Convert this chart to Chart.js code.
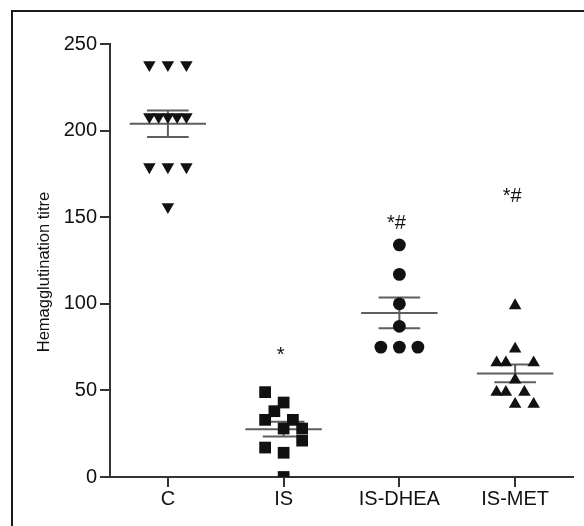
<!DOCTYPE html>
<html>
<head>
<meta charset="utf-8">
<script src="https://cdn.jsdelivr.net/npm/chart.js@4.4.1/dist/chart.umd.min.js"></script>
<style>
  html, body { margin: 0; padding: 0; background: #fff; overflow: hidden; }
  #wrap { position: relative; width: 584px; height: 526px; }
  #frame { position: absolute; left: 11px; top: 10px; width: 700px; height: 700px;
           border-left: 2px solid #1a1a1a; border-top: 2px solid #1a1a1a; }
  canvas { position: absolute; left: 0; top: 0; }
</style>
</head>
<body>
<div id="wrap">
  <div id="frame"></div>
  <canvas id="c" width="584" height="526"></canvas>
</div>
<script>
// ---- data ----
const categories = ['C', 'IS', 'IS-DHEA', 'IS-MET'];
const yTicks = [0, 50, 100, 150, 200, 250];
const yTitle = 'Hemagglutination titre';

const cValues    = [238, 238, 238, 208, 208, 208, 208, 208, 179, 179, 179, 156];
const cJitter    = [-0.16, 0, 0.16, -0.16, -0.08, 0, 0.08, 0.16, -0.16, 0, 0.16, 0];

const isValues   = [49, 43, 38, 33, 33, 28, 28, 21, 17, 14, 0];
const isJitter   = [-0.16, 0, -0.08, -0.16, 0.08, 0, 0.16, 0.16, -0.16, 0, 0];

const dheaValues = [134, 117, 100, 87, 75, 75, 75];
const dheaJitter = [0, 0, 0, 0, -0.16, 0, 0.16];

const metValues  = [99, 74, 66, 66, 66, 56, 49, 49, 49, 42, 42];
const metJitter  = [0, 0, -0.16, -0.08, 0.16, 0, -0.16, -0.08, 0.08, 0, 0.16];

const signifText = ['', '*', '*#', '*#'];
const signifY    = [null, 67, 143, 159];

// ---- helpers ----
const groups = [
  { values: cValues, jitter: cJitter, style: 'triangle', rotation: 180, radius: 7.2 },
  { values: isValues, jitter: isJitter, style: 'rect', rotation: 0, radius: 8.3 },
  { values: dheaValues, jitter: dheaJitter, style: 'circle', rotation: 0, radius: 6.4 },
  { values: metValues, jitter: metJitter, style: 'triangle', rotation: 0, radius: 7.2 }
];

function mean(a) { return a.reduce((s, v) => s + v, 0) / a.length; }
function sem(a) {
  const m = mean(a);
  const v = a.reduce((s, x) => s + (x - m) * (x - m), 0) / (a.length - 1);
  return Math.sqrt(v) / Math.sqrt(a.length);
}

const datasets = groups.map((g, i) => ({
  data: g.values.map((v, k) => ({ x: i + g.jitter[k], y: v })),
  pointStyle: g.style,
  rotation: g.rotation,
  pointRadius: g.radius,
  pointHoverRadius: g.radius,
  backgroundColor: '#111',
  borderColor: '#111',
  borderWidth: 0
}));

const FONT = "'Liberation Sans', Arial, Helvetica, sans-serif";

const meanSemPlugin = {
  id: 'meanSem',
  beforeDatasetsDraw(chart) {
    const ctx = chart.ctx, xs = chart.scales.x, ys = chart.scales.y;
    ctx.save();
    ctx.strokeStyle = '#5e5e5e';
    ctx.lineWidth = 2;
    groups.forEach((g, i) => {
      const m = mean(g.values), s = sem(g.values);
      const yM = ys.getPixelForValue(m);
      const yU = ys.getPixelForValue(m + s);
      const yL = ys.getPixelForValue(m - s);
      ctx.beginPath();
      ctx.moveTo(xs.getPixelForValue(i - 0.33), yM);
      ctx.lineTo(xs.getPixelForValue(i + 0.33), yM);
      ctx.moveTo(xs.getPixelForValue(i), yU);
      ctx.lineTo(xs.getPixelForValue(i), yL);
      ctx.moveTo(xs.getPixelForValue(i - 0.18), yU);
      ctx.lineTo(xs.getPixelForValue(i + 0.18), yU);
      ctx.moveTo(xs.getPixelForValue(i - 0.18), yL);
      ctx.lineTo(xs.getPixelForValue(i + 0.18), yL);
      ctx.stroke();
    });
    ctx.restore();
  },
  afterDatasetsDraw(chart) {
    const ctx = chart.ctx, xs = chart.scales.x, ys = chart.scales.y;
    ctx.save();
    ctx.fillStyle = '#111';
    ctx.font = '20px ' + FONT;
    ctx.textAlign = 'center';
    ctx.textBaseline = 'alphabetic';
    signifText.forEach((t, i) => {
      if (!t || signifY[i] == null) return;
      ctx.fillText(t, xs.getPixelForValue(i) - 3, ys.getPixelForValue(signifY[i]));
    });
    // y-axis title, placed as in the reference (slightly below axis centre)
    ctx.font = '16.5px ' + FONT;
    ctx.translate(44, 272);
    ctx.rotate(-Math.PI / 2);
    ctx.textBaseline = 'middle';
    ctx.fillText(yTitle, 0, 0);
    ctx.restore();
  }
};

new Chart(document.getElementById('c'), {
  type: 'scatter',
  data: { datasets },
  options: {
    responsive: false,
    animation: false,
    devicePixelRatio: 1,
    layout: { padding: { left: 30, top: 44, right: 11, bottom: 0 } },
    plugins: { legend: { display: false }, tooltip: { enabled: false } },
    scales: {
      x: {
        type: 'linear',
        min: -0.5,
        max: 3.5,
        afterBuildTicks: (s) => { s.ticks = categories.map((_, i) => ({ value: i })); },
        afterFit: (s) => { s.height = 49; },
        ticks: {
          callback: (v) => categories[Math.round(v)] ?? '',
          color: '#111',
          font: { family: FONT, size: 20 },
          padding: 0,
          maxRotation: 0,
          autoSkip: false
        },
        grid: { display: true, drawOnChartArea: false, drawTicks: true, tickLength: 10, color: '#333', lineWidth: 2 },
        border: { display: true, color: '#333', width: 2 }
      },
      y: {
        min: 0,
        max: 250,
        afterBuildTicks: (s) => { s.ticks = yTicks.map(v => ({ value: v })); },
        afterFit: (s) => { s.width = 80; },
        ticks: {
          color: '#111',
          font: { family: FONT, size: 20 },
          padding: 3
        },
        grid: { display: true, drawOnChartArea: false, drawTicks: true, tickLength: 10, color: '#333', lineWidth: 2 },
        border: { display: true, color: '#333', width: 2 },
        title: { display: false }
      }
    }
  },
  plugins: [meanSemPlugin]
});
</script>
</body>
</html>
